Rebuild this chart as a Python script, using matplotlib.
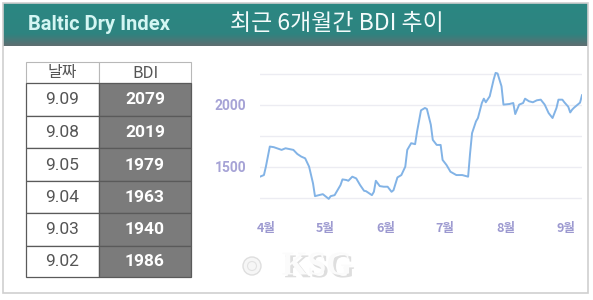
import numpy as np
import pandas as pd
import matplotlib
matplotlib.use("Agg")
import matplotlib.pyplot as plt
import matplotlib.patheffects as pe
from matplotlib.patches import Rectangle

# ---------------- data ----------------
dates = ['2025-03-29', '2025-03-31', '2025-04-01', '2025-04-03', '2025-04-05', '2025-04-09',
         '2025-04-11', '2025-04-15', '2025-04-17', '2025-04-19', '2025-04-21', '2025-04-23',
         '2025-04-25', '2025-04-26', '2025-04-28', '2025-04-30',
         '2025-05-03', '2025-05-04', '2025-05-06', '2025-05-09', '2025-05-10', '2025-05-12',
         '2025-05-13', '2025-05-15', '2025-05-17', '2025-05-19', '2025-05-21', '2025-05-22',
         '2025-05-25', '2025-05-26', '2025-05-27', '2025-05-29', '2025-05-31',
         '2025-06-02', '2025-06-04', '2025-06-05', '2025-06-07', '2025-06-09', '2025-06-11',
         '2025-06-12', '2025-06-14', '2025-06-16', '2025-06-17', '2025-06-19', '2025-06-21',
         '2025-06-22', '2025-06-24', '2025-06-25', '2025-06-27', '2025-06-29', '2025-06-30',
         '2025-07-02', '2025-07-04', '2025-07-07', '2025-07-10', '2025-07-13', '2025-07-14',
         '2025-07-15', '2025-07-17', '2025-07-18', '2025-07-20', '2025-07-21', '2025-07-22',
         '2025-07-24', '2025-07-26', '2025-07-27', '2025-07-28', '2025-07-30', '2025-07-31',
         '2025-08-03', '2025-08-05', '2025-08-06', '2025-08-08', '2025-08-10', '2025-08-11',
         '2025-08-13', '2025-08-15', '2025-08-17', '2025-08-19', '2025-08-21', '2025-08-23',
         '2025-08-25', '2025-08-27', '2025-08-28', '2025-08-30', '2025-08-31',
         '2025-09-02', '2025-09-03', '2025-09-04', '2025-09-05', '2025-09-08', '2025-09-09']
bdi = [1422, 1435, 1503, 1665, 1660, 1638, 1651, 1638, 1605, 1584, 1570, 1503, 1368, 1265, 1273, 1281,
       1243, 1265, 1273, 1354, 1400, 1395, 1389, 1422, 1408, 1354, 1308, 1305, 1273, 1300, 1389, 1346, 1341,
       1341, 1300, 1313, 1416, 1435, 1503, 1638, 1692, 1684, 1786, 1957, 1976, 1968, 1841, 1719, 1678, 1678, 1557,
       1516, 1462, 1435, 1435, 1422, 1611, 1773, 1868, 1895, 2016, 2051, 2022, 2070, 2205, 2259, 2254, 2151, 2003,
       2008, 2016, 1927, 2003, 2016, 2051, 2030, 2022, 2038, 2043, 2003, 1935, 1895, 1976, 2043, 2043, 2022,
       1986, 1940, 1963, 1979, 2019, 2079]

month_ticks = ['2025-04-01', '2025-05-01', '2025-06-01', '2025-07-01', '2025-08-01', '2025-09-01']
month_labels = ['4월', '5월', '6월', '7월', '8월', '9월']
y_gridlines = [1250, 1500, 1750, 2000, 2250]
y_labels = [1500, 2000]

table_header = ['날짜', 'BDI']
table_dates = ['9.09', '9.08', '9.05', '9.04', '9.03', '9.02']
table_bdi = [2079, 2019, 1979, 1963, 1940, 1986]

header_left = 'Baltic Dry Index'
header_title = '최근 6개월간 BDI 추이'
watermark = 'KSG'

# ---------------- figure ----------------
W, H = 593, 300
fig = plt.figure(figsize=(W / 100, H / 100), dpi=100)
fig.patch.set_facecolor('white')

# decoration axes in pixel coordinates
bg = fig.add_axes([0, 0, 1, 1], zorder=0)
bg.axis('off')

# header band with gradient
top = np.array([0x2b, 0x87, 0x82]) / 255
mid = np.array([0x2e, 0x84, 0x80]) / 255
bot = np.array([0x5e, 0x6e, 0x71]) / 255
n = 60
t = np.linspace(0, 1, n)
cols = np.zeros((n, 1, 3))
for i, tt in enumerate(t):
    if tt < 0.72:
        c = top + (mid - top) * tt / 0.72
    else:
        c = mid + (bot - mid) * (tt - 0.72) / 0.28
    cols[i, 0] = c
bg.imshow(cols, extent=(3, 588, 46, 3), aspect='auto', interpolation='bilinear', zorder=1)
bg.set_xlim(0, W)
bg.set_ylim(H, 0)

# outer border
bg.add_patch(Rectangle((3, 3), 585, 290, fill=False, edgecolor='#cfcfcf', linewidth=1.2, zorder=4))

bg.text(28, 25, header_left, color='#d4f6f3', fontsize=14.5, fontweight='bold',
        family=['Roboto', 'DejaVu Sans'], va='center', ha='left', zorder=2)
bg.text(337, 24, header_title, color='#f4fbfb', fontsize=16.5, fontweight='medium',
        family=['Noto Sans CJK KR', 'DejaVu Sans'], va='center', ha='center', zorder=2)

# table
x0, x1, x2 = 26, 99, 191
row_edges = [62, 83, 116, 148, 181, 213, 246, 277]
for xa, xb, lab in [(x0, x1, table_header[0]), (x1, x2, table_header[1])]:
    bg.add_patch(Rectangle((xa, row_edges[0]), xb - xa, row_edges[1] - row_edges[0],
                           facecolor='white', edgecolor='#b8b8b8', linewidth=0.8, zorder=2))
    bg.text((xa + xb) / 2, (row_edges[0] + row_edges[1]) / 2 + 0.5, lab, color='#555555',
            fontsize=11.5, fontweight='medium', family=['Noto Sans CJK KR', 'DejaVu Sans'],
            ha='center', va='center', zorder=3)
for i, (dd, v) in enumerate(zip(table_dates, table_bdi)):
    ya, yb = row_edges[i + 1], row_edges[i + 2]
    bg.add_patch(Rectangle((x0, ya), x1 - x0, yb - ya, facecolor='white',
                           edgecolor='#5a5a5a', linewidth=0.9, zorder=2))
    bg.add_patch(Rectangle((x1, ya), x2 - x1, yb - ya, facecolor='#7b7b7b',
                           edgecolor='#5a5a5a', linewidth=0.9, zorder=2))
    bg.text((x0 + x1) / 2, (ya + yb) / 2 + 0.5, dd, color='#555555', fontsize=12.5,
            family=['Roboto', 'DejaVu Sans'], ha='center', va='center', zorder=3)
    bg.text((x1 + x2) / 2, (ya + yb) / 2 + 0.5, f'{v}', color='white', fontsize=12.5,
            fontweight='bold', family=['Roboto', 'DejaVu Sans'], ha='center', va='center', zorder=3)

# watermark (faint logo + text with soft shadow)
bg.add_patch(plt.Circle((252, 266), 9, facecolor='#f6f6f6', edgecolor='#dedede', linewidth=1, zorder=2))
bg.add_patch(plt.Circle((252, 266), 4.5, facecolor='none', edgecolor='#e2e2e2', linewidth=0.8, zorder=2))
bg.text(317, 266, watermark, color='#fbfbfb', fontsize=24, fontweight='bold',
        family=['Liberation Serif', 'DejaVu Serif'], ha='center', va='center', zorder=3,
        path_effects=[pe.SimplePatchShadow(offset=(2, -2), shadow_rgbFace='#c8c8c8', alpha=0.6),
                      pe.Normal()])

# ---------------- chart ----------------
d = pd.to_datetime(dates)
ylo, yhi = 1200, 2300
px_per_unit = 124 / 1000
ax_bottom_px = 198 + (1250 - ylo) * px_per_unit
ax_top_px = 74 - (yhi - 2250) * px_per_unit
ax = fig.add_axes([260 / W, 1 - ax_bottom_px / H, 322 / W, (ax_bottom_px - ax_top_px) / H], zorder=1)
ax.patch.set_alpha(0)

for g in y_gridlines:
    ax.axhline(g, color='#ececf2', linewidth=1.0, zorder=1)
ax.plot(d, bdi, color='#82b3e6', linewidth=1.4, solid_joinstyle='round', zorder=3)

ax.set_xlim(d[0], d[-1])
ax.set_ylim(ylo, yhi)
for s in ax.spines.values():
    s.set_visible(False)
ax.set_yticks(y_labels)
ax.set_yticklabels([str(v) for v in y_labels])
ax.set_xticks(pd.to_datetime(month_ticks))
ax.set_xticklabels(month_labels)
ax.tick_params(axis='both', length=0)
ax.tick_params(axis='y', pad=10)
ax.tick_params(axis='x', pad=13)
for lab in ax.get_yticklabels():
    lab.set_color('#a6a3d6')
    lab.set_fontweight('bold')
    lab.set_fontsize(10)
    lab.set_family(['Roboto', 'DejaVu Sans'])
for lab in ax.get_xticklabels():
    lab.set_color('#9c99d0')
    lab.set_fontweight('bold')
    lab.set_fontsize(9)
    lab.set_family(['Noto Sans CJK KR', 'DejaVu Sans'])

fig.savefig('out.png', dpi=100)
